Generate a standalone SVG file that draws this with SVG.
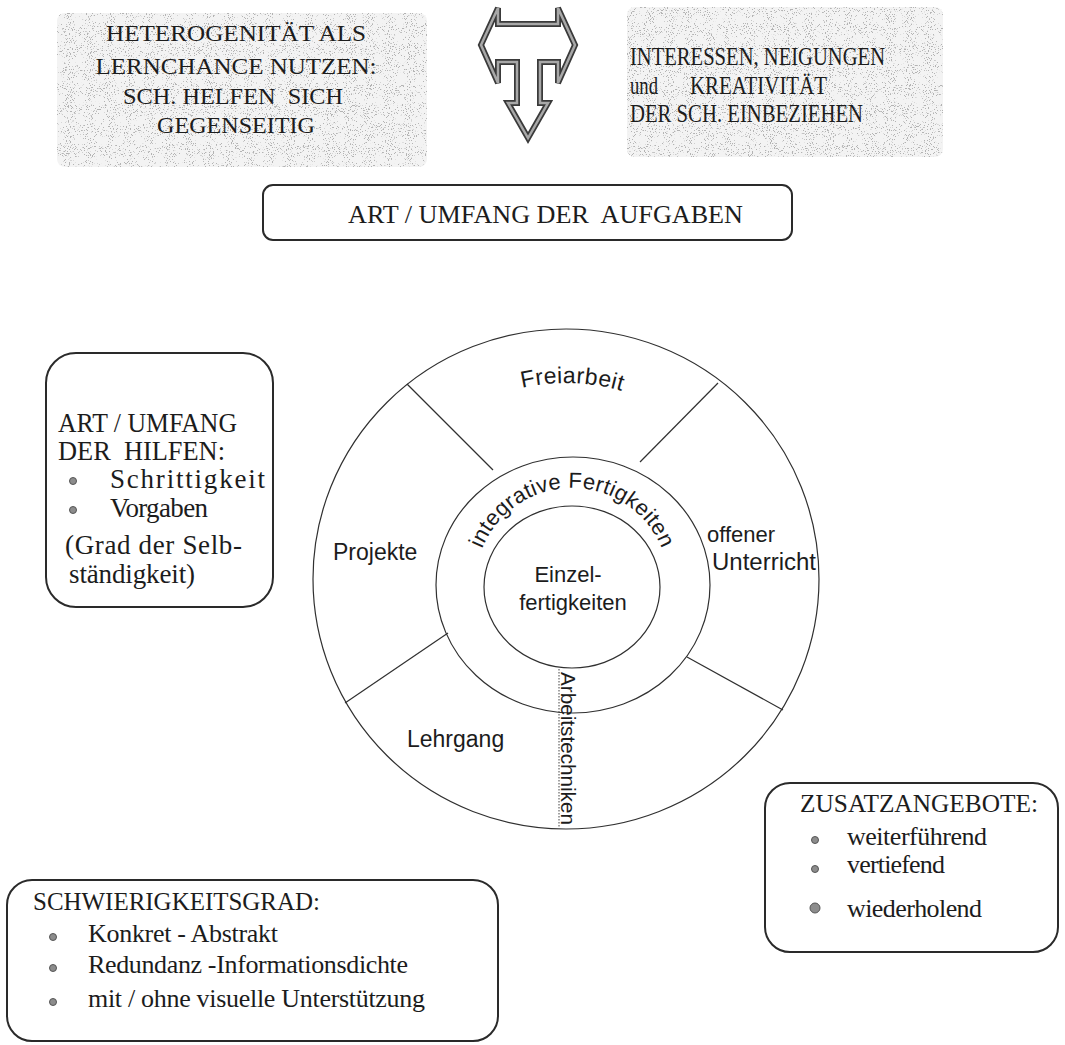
<svg xmlns="http://www.w3.org/2000/svg" width="1065" height="1045" viewBox="0 0 1065 1045">
  <style>
    .serif { font-family: "Liberation Serif", "Times New Roman", serif; fill: #1c1c1c; }
    .sans { font-family: "Liberation Sans", Arial, sans-serif; fill: #1c1c1c; }
    .box { fill: none; stroke: #2a2a2a; stroke-width: 2; }
    .ring { fill: none; stroke: #303030; stroke-width: 1.2; }
    .spoke { stroke: #303030; stroke-width: 1.2; }
    .bullet { fill: #8c8c8c; stroke: #555; stroke-width: 1; }
    .pre { white-space: pre; }
  </style>
  <defs>
    <!-- speckled grey screen behind the two headline notes -->
    <filter id="grain" x="0" y="0" width="100%" height="100%">
      <feTurbulence type="fractalNoise" baseFrequency="0.95" numOctaves="2" seed="7" result="noise"/>
      <feColorMatrix in="noise" type="matrix" values="0 0 0 0 0.45  0 0 0 0 0.45  0 0 0 0 0.45  14 0 0 0 -8.6" result="dots"/>
      <feComposite in="dots" in2="SourceGraphic" operator="in"/>
    </filter>
    <path id="arcOuter" d="M 369,580 A 197 197 0 0 1 763,580"/>
    <path id="arcMiddle" d="M 475,585 A 97 97 0 0 1 669,585"/>
  </defs>

  <rect width="1065" height="1045" fill="#ffffff"/>

  <!-- headline note: heterogeneity -->
  <g id="note-heterogenitaet">
    <rect x="57" y="13" width="370" height="154" rx="8" fill="#f3f3f3"/>
    <rect x="57" y="13" width="370" height="154" rx="8" fill="#000" filter="url(#grain)"/>
    <g class="serif" font-size="24" text-anchor="middle">
      <text x="236" y="41" textLength="260" lengthAdjust="spacingAndGlyphs">HETEROGENITÄT ALS</text>
      <text x="236" y="74" textLength="281" lengthAdjust="spacingAndGlyphs">LERNCHANCE NUTZEN:</text>
      <text x="233" y="104" class="serif pre" textLength="220" lengthAdjust="spacingAndGlyphs">SCH. HELFEN  SICH</text>
      <text x="236" y="133" textLength="158" lengthAdjust="spacingAndGlyphs">GEGENSEITIG</text>
    </g>
  </g>

  <!-- headline note: interests -->
  <g id="note-interessen">
    <rect x="627" y="7" width="316" height="150" rx="8" fill="#f3f3f3"/>
    <rect x="627" y="7" width="316" height="150" rx="8" fill="#000" filter="url(#grain)"/>
    <g class="serif" font-size="25">
      <text x="630" y="65" textLength="255" lengthAdjust="spacingAndGlyphs">INTERESSEN, NEIGUNGEN</text>
      <text x="630" y="94" textLength="28" lengthAdjust="spacingAndGlyphs">und</text>
      <text x="690" y="94" textLength="137" lengthAdjust="spacingAndGlyphs">KREATIVITÄT</text>
      <text x="630" y="122" textLength="233" lengthAdjust="spacingAndGlyphs">DER SCH. EINBEZIEHEN</text>
    </g>
  </g>

  <!-- three-way outline arrow -->
  <g id="arrow-t">
    <polygon points="481,45 498,8 498,24 558,24 558,8 575,45 558,83 558,62 540,62 540,103 548,103 528,138 508,103 517,103 517,62 498,62 498,83" fill="#ffffff" stroke="#3a3a3a" stroke-width="6" stroke-linejoin="miter"/>
    <polygon points="481,45 498,8 498,24 558,24 558,8 575,45 558,83 558,62 540,62 540,103 548,103 528,138 508,103 517,103 517,62 498,62 498,83" fill="none" stroke="#a8a8a8" stroke-width="2.5" stroke-linejoin="miter"/>
  </g>

  <!-- task type / scope -->
  <g id="aufgaben">
    <rect class="box" x="263" y="185" width="529" height="55" rx="10"/>
    <text class="serif pre" x="348" y="223" font-size="25" textLength="395" lengthAdjust="spacingAndGlyphs">ART / UMFANG DER  AUFGABEN</text>
  </g>

  <!-- help type / scope -->
  <g id="hilfen">
    <rect class="box" x="46" y="353" width="227" height="254" rx="30"/>
    <g class="serif" font-size="27">
      <text x="58" y="432" textLength="179" lengthAdjust="spacingAndGlyphs">ART / UMFANG</text>
      <text x="58" y="460" class="serif pre" textLength="167" lengthAdjust="spacingAndGlyphs">DER  HILFEN:</text>
      <circle class="bullet" cx="73" cy="481" r="3.5"/>
      <text x="110" y="488" textLength="155" lengthAdjust="spacing">Schrittigkeit</text>
      <circle class="bullet" cx="73" cy="510" r="3.5"/>
      <text x="110" y="517" textLength="98" lengthAdjust="spacing">Vorgaben</text>
      <text x="65" y="554" textLength="177" lengthAdjust="spacing">(Grad der Selb-</text>
      <text x="69" y="583" textLength="126" lengthAdjust="spacing">ständigkeit)</text>
    </g>
  </g>

  <!-- central ring diagram -->
  <g id="ringe">
    <ellipse class="ring" cx="566" cy="579" rx="253" ry="250"/>
    <ellipse class="ring" cx="573" cy="585" rx="137" ry="128"/>
    <ellipse class="ring" cx="572" cy="587" rx="88" ry="81"/>
  </g>

  <!-- sector dividers -->
  <g id="connectors">
    <line class="spoke" x1="407" y1="384" x2="493" y2="470"/>
    <line class="spoke" x1="718" y1="383" x2="640" y2="462"/>
    <line class="spoke" x1="345" y1="703" x2="448" y2="633"/>
    <line class="spoke" x1="687" y1="657" x2="783" y2="710"/>
    <line x1="559" y1="669" x2="559" y2="828" stroke="#444" stroke-width="1" stroke-dasharray="1.5 1.5"/>
  </g>

  <g id="sektor-labels" class="sans">
    <text font-size="23" letter-spacing="0.4"><textPath href="#arcOuter" startOffset="51%" text-anchor="middle">Freiarbeit</textPath></text>
    <text font-size="22" letter-spacing="0.3"><textPath href="#arcMiddle" startOffset="50%" text-anchor="middle">integrative Fertigkeiten</textPath></text>
    <text x="333" y="560" font-size="23">Projekte</text>
    <text x="707" y="542" font-size="22">offener</text>
    <text x="712" y="570" font-size="23" textLength="104" lengthAdjust="spacingAndGlyphs">Unterricht</text>
    <text x="407" y="747" font-size="23">Lehrgang</text>
    <text x="568" y="582" font-size="22" text-anchor="middle">Einzel-</text>
    <text x="573" y="610" font-size="22" text-anchor="middle">fertigkeiten</text>
    <text transform="translate(561,672) rotate(90)" font-size="20" textLength="153" lengthAdjust="spacingAndGlyphs">Arbeitstechniken</text>
  </g>

  <!-- additional offers -->
  <g id="zusatzangebote">
    <rect class="box" x="765" y="783" width="293" height="169" rx="25"/>
    <g class="serif" font-size="26">
      <text x="800" y="812" textLength="238" lengthAdjust="spacingAndGlyphs">ZUSATZANGEBOTE:</text>
      <circle class="bullet" cx="815" cy="840" r="3.5"/>
      <text x="847" y="845" textLength="140" lengthAdjust="spacing">weiterführend</text>
      <circle class="bullet" cx="815" cy="869" r="3.5"/>
      <text x="847" y="873" textLength="98" lengthAdjust="spacing">vertiefend</text>
      <circle class="bullet" cx="815" cy="908" r="5"/>
      <text x="847" y="917" textLength="135" lengthAdjust="spacing">wiederholend</text>
    </g>
  </g>

  <!-- level of difficulty -->
  <g id="schwierigkeitsgrad">
    <rect class="box" x="7" y="880" width="491" height="161" rx="25"/>
    <g class="serif" font-size="26">
      <text x="33" y="910" textLength="287" lengthAdjust="spacingAndGlyphs">SCHWIERIGKEITSGRAD:</text>
      <circle class="bullet" cx="53" cy="937" r="3.5"/>
      <text x="88" y="942" textLength="190" lengthAdjust="spacing">Konkret - Abstrakt</text>
      <circle class="bullet" cx="53" cy="968" r="3.5"/>
      <text x="88" y="973" textLength="320" lengthAdjust="spacing">Redundanz -Informationsdichte</text>
      <circle class="bullet" cx="53" cy="1002" r="3.5"/>
      <text x="88" y="1007" textLength="337" lengthAdjust="spacing">mit / ohne visuelle Unterstützung</text>
    </g>
  </g>
</svg>
